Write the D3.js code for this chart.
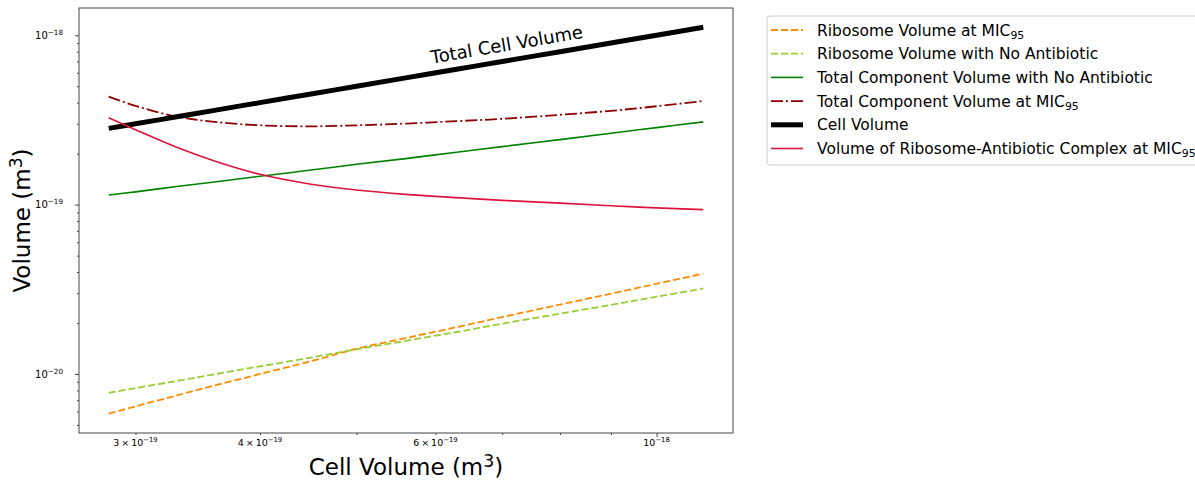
<!DOCTYPE html>
<html>
<head>
<meta charset="utf-8">
<script src="https://cdn.jsdelivr.net/npm/d3@7"></script>
<style>
body { margin: 0; background: #fff; }
text { font-family: "DejaVu Sans", sans-serif; fill: #000; }
</style>
</head>
<body>
<script>
// cell volumes along the x axis (m^3)
var cellVolume = [2.82e-19, 3.0e-19, 3.3e-19, 3.6e-19, 4.0e-19, 4.5e-19, 5.0e-19,
                  5.6e-19, 6.3e-19, 7.0e-19, 8.0e-19, 9.0e-19, 1.0e-18, 1.114e-18];

// series values (m^3), one per cell volume
var ribosomeMIC   = [5.83e-21, 6.44e-21, 7.47e-21, 8.54e-21, 1.00e-20, 1.19e-20, 1.41e-20,
                     1.63e-20, 1.89e-20, 2.17e-20, 2.57e-20, 2.98e-20, 3.41e-20, 3.91e-20];
var ribosomeNoAb  = [7.74e-21, 8.25e-21, 9.10e-21, 9.96e-21, 1.11e-20, 1.25e-20, 1.40e-20,
                     1.57e-20, 1.77e-20, 1.98e-20, 2.27e-20, 2.56e-20, 2.86e-20, 3.20e-20];
var totalNoAb     = [1.14e-19, 1.19e-19, 1.28e-19, 1.36e-19, 1.47e-19, 1.60e-19, 1.73e-19,
                     1.87e-19, 2.04e-19, 2.20e-19, 2.42e-19, 2.64e-19, 2.85e-19, 3.08e-19];
var totalMIC      = [4.34e-19, 3.83e-19, 3.31e-19, 3.08e-19, 2.94e-19, 2.90e-19, 2.94e-19,
                     3.01e-19, 3.11e-19, 3.21e-19, 3.39e-19, 3.58e-19, 3.81e-19, 4.09e-19];
var cellVol       = [2.82e-19, 3.0e-19, 3.3e-19, 3.6e-19, 4.0e-19, 4.5e-19, 5.0e-19,
                     5.6e-19, 6.3e-19, 7.0e-19, 8.0e-19, 9.0e-19, 1.0e-18, 1.114e-18];
var complexMIC    = [3.26e-19, 2.77e-19, 2.18e-19, 1.81e-19, 1.51e-19, 1.32e-19, 1.22e-19,
                     1.15e-19, 1.10e-19, 1.06e-19, 1.02e-19, 9.84e-20, 9.57e-20, 9.34e-20];

var legendLabels = ["Ribosome Volume at MIC", "Ribosome Volume with No Antibiotic",
                    "Total Component Volume with No Antibiotic", "Total Component Volume at MIC",
                    "Cell Volume", "Volume of Ribosome-Antibiotic Complex at MIC"];
var legendSubs = ["95", "", "", "95", "", "95"];

var xTickLabelled = [3e-19, 4e-19, 6e-19, 1e-18];
var annotation = {text: "Total Cell Volume", x: 5.95e-19, y: 6.8e-19};

// series drawn in legend order
var series = [
  {values: ribosomeMIC,  color: "darkorange",  width: 1.8, dash: "7,3"},
  {values: ribosomeNoAb, color: "yellowgreen", width: 1.8, dash: "7,3"},
  {values: totalNoAb,    color: "green",       width: 1.6, dash: null},
  {values: totalMIC,     color: "darkred",     width: 1.8, dash: "12,3,2,3"},
  {values: cellVol,      color: "black",       width: 5,   dash: null},
  {values: complexMIC,   color: "crimson",     width: 1.6, dash: null}
];
series.forEach(function(s, i) { s.label = legendLabels[i]; s.sub = legendSubs[i]; });

// set the dimensions and margins of the graph
var margin = {top: 8, right: 462, bottom: 47, left: 79},
  width = 1195 - margin.left - margin.right,
  height = 480 - margin.top - margin.bottom;

// matplotlib style 5% padding, in log space
function padLog(ext) {
  var a = Math.log10(ext[0]), b = Math.log10(ext[1]), m = (b - a) * 0.05;
  return [Math.pow(10, a - m), Math.pow(10, b + m)];
}

var allY = [].concat(ribosomeMIC, ribosomeNoAb, totalNoAb, totalMIC, cellVol, complexMIC);
var x = d3.scaleLog().domain(padLog(d3.extent(cellVolume))).range([0, width]);
var y = d3.scaleLog().domain(padLog(d3.extent(allY))).range([height, 0]);

var svgRoot = d3.select("body").append("svg")
    .attr("width", 1195)
    .attr("height", 480);
var svg = svgRoot.append("g")
    .attr("transform", "translate(" + margin.left + "," + margin.top + ")");

function isPow10(v) {
  var l = Math.log10(v);
  return Math.abs(l - Math.round(l)) < 1e-6;
}

// write 10^n style labels with a superscript exponent
function sciLabel(sel, v) {
  var e = Math.round(Math.floor(Math.log10(v) + 1e-9));
  var m = Math.round(v / Math.pow(10, e));
  sel.text(m === 1 ? "10" : m + "\u2009\u00d7\u200910");
  sel.append("tspan").attr("dy", "-0.55em").attr("font-size", "0.72em").text("\u2212" + (-e));
}

// y axis: decades are major, the rest minor
var yMajor = y.ticks().filter(isPow10);
var yMinor = y.ticks().filter(function(v) { return !isPow10(v); });

svg.append("g")
    .call(d3.axisLeft(y).tickValues(yMinor).tickSize(2).tickFormat(""))
    .call(function(g) { g.select(".domain").remove(); g.selectAll("line").attr("stroke", "#444"); });

var yAx = svg.append("g")
    .call(d3.axisLeft(y).tickValues(yMajor).tickSize(4).tickFormat(""));
yAx.select(".domain").remove();
yAx.selectAll("line").attr("stroke", "#444");
yAx.selectAll(".tick").append("text")
    .attr("x", -16)
    .attr("dy", "0.32em")
    .attr("text-anchor", "end")
    .attr("font-size", 10)
    .attr("fill", "#222")
    .each(function(d) { sciLabel(d3.select(this), d); });

// x axis
var xMajor = x.ticks().filter(isPow10);
var xMinor = x.ticks().filter(function(v) { return !isPow10(v); });

svg.append("g")
    .attr("transform", "translate(0," + height + ")")
    .call(d3.axisBottom(x).tickValues(xMinor).tickSize(2).tickFormat(""))
    .call(function(g) { g.select(".domain").remove(); g.selectAll("line").attr("stroke", "#444"); });

var xAx = svg.append("g")
    .attr("transform", "translate(0," + height + ")")
    .call(d3.axisBottom(x).tickValues(xMajor).tickSize(4).tickFormat(""));
xAx.select(".domain").remove();
xAx.selectAll("line").attr("stroke", "#444");

svg.append("g")
    .attr("transform", "translate(0," + height + ")")
  .selectAll("text")
    .data(xTickLabelled)
  .enter().append("text")
    .attr("x", function(d) { return x(d); })
    .attr("y", 12.5)
    .attr("text-anchor", "middle")
    .attr("font-size", 9.5)
    .attr("fill", "#222")
    .each(function(d) { sciLabel(d3.select(this), d); });

// frame
svg.append("rect")
    .attr("width", width)
    .attr("height", height)
    .attr("fill", "none")
    .attr("stroke", "#444")
    .attr("stroke-width", 1);

// the lines
var line = d3.line()
    .x(function(d, i) { return x(cellVolume[i]); })
    .y(function(d) { return y(d); })
    .curve(d3.curveCatmullRom.alpha(0.5));

series.forEach(function(s) {
  svg.append("path")
      .datum(s.values)
      .attr("fill", "none")
      .attr("stroke", s.color)
      .attr("stroke-width", s.width)
      .attr("stroke-dasharray", s.dash)
      .attr("d", line);
});

// rotated annotation along the cell volume line
var n = cellVolume.length - 1;
var angle = Math.atan2(y(cellVol[n]) - y(cellVol[0]), x(cellVolume[n]) - x(cellVolume[0])) * 180 / Math.PI;
svg.append("text")
    .attr("transform", "translate(" + x(annotation.x) + "," + y(annotation.y) + ") rotate(" + angle + ")")
    .attr("font-size", 18)
    .attr("fill", "#111")
    .text(annotation.text);

// axis titles
svg.append("text")
    .attr("x", width / 2)
    .attr("y", height + 41.5)
    .attr("text-anchor", "middle")
    .attr("font-size", 23)
    .text("Cell Volume (m")
  .append("tspan").attr("dy", "-0.45em").attr("font-size", "0.75em").text("3")
  .select(function() { return this.parentNode; })
  .append("tspan").attr("dy", "0.34em").text(")");

svg.append("text")
    .attr("transform", "rotate(-90)")
    .attr("x", -height / 2)
    .attr("y", 30 - margin.left)
    .attr("text-anchor", "middle")
    .attr("font-size", 23)
    .text("Volume (m")
  .append("tspan").attr("dy", "-0.45em").attr("font-size", "0.75em").text("3")
  .select(function() { return this.parentNode; })
  .append("tspan").attr("dy", "0.34em").text(")");

// legend
var legend = svgRoot.append("g").attr("transform", "translate(767,16)");
legend.append("rect")
    .attr("width", 450)
    .attr("height", 149)
    .attr("rx", 3)
    .attr("fill", "#fff")
    .attr("stroke", "#ccc");

var rows = legend.selectAll("g.row")
    .data(series)
  .enter().append("g")
    .attr("class", "row")
    .attr("transform", function(d, i) { return "translate(0," + (14 + i * 23.7) + ")"; });

rows.append("line")
    .attr("x1", 4).attr("x2", 36)
    .attr("stroke", function(d) { return d.color; })
    .attr("stroke-width", function(d) { return d.width; })
    .attr("stroke-dasharray", function(d) { return d.dash; });

rows.append("text")
    .attr("x", 50)
    .attr("dy", "0.36em")
    .attr("font-size", 15.5)
    .attr("fill", "#222")
    .each(function(d) {
      var t = d3.select(this).text(d.label);
      if (d.sub) t.append("tspan").attr("dy", "0.3em").attr("font-size", "0.7em").text(d.sub);
    });
</script>
</body>
</html>
